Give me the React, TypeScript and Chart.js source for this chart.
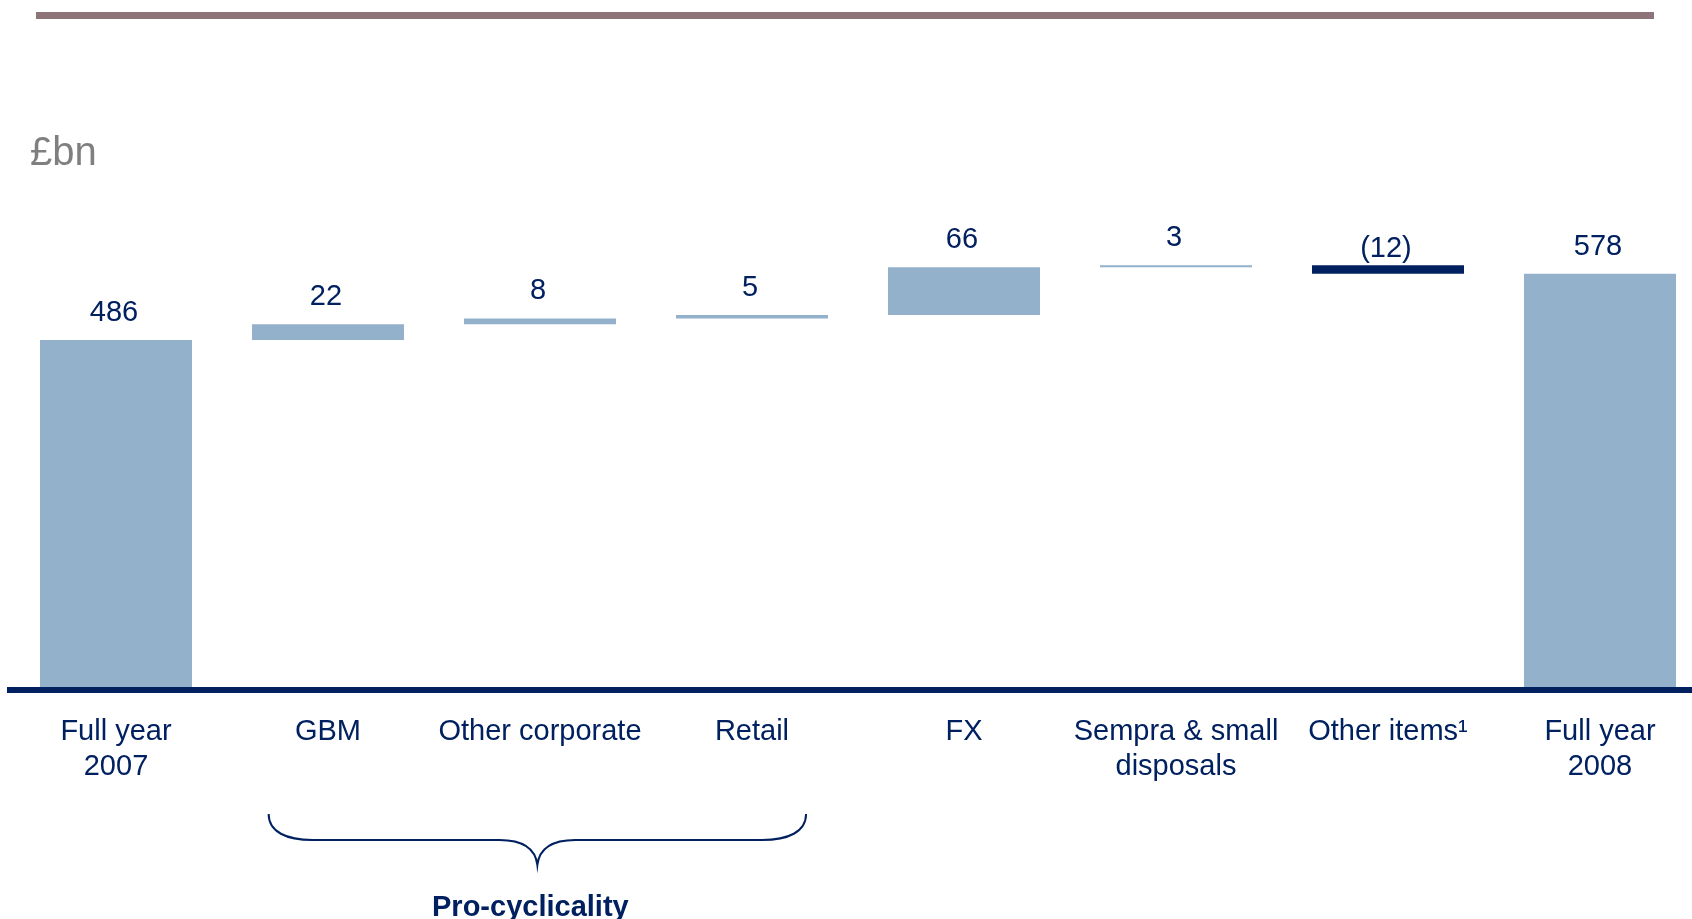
import React, { useEffect, useRef } from 'react';
import { Chart, registerables } from 'chart.js';

Chart.register(...registerables);

// Risk-weighted assets bridge, FY2007 to FY2008 (£bn)
const categories: (string | string[])[] = [
  ['Full year', '2007'],
  'GBM',
  'Other corporate',
  'Retail',
  'FX',
  ['Sempra & small', 'disposals'],
  'Other items¹',
  ['Full year', '2008'],
];
const values = [486, 22, 8, 5, 66, 3, -12, 578];
const isTotal = [true, false, false, false, false, false, false, true];
const unitLabel = '£bn';
const groupLabel = 'Pro-cyclicality';
const groupFirst = 1;
const groupLast = 3;

const FONT = "'Liberation Sans', Arial, Helvetica, sans-serif";
const NAVY = '#002060';
const LIGHT = '#94B1CC';
const RULE = '#8C7478';
const GREY = '#7F7F7F';

// floating [low, high] ranges for the waterfall
const ranges: [number, number][] = (() => {
  let running = 0;
  return values.map((v, i) => {
    if (isTotal[i]) {
      running = v;
      return [0, v] as [number, number];
    }
    const r: [number, number] = [running, running + v];
    running += v;
    return r;
  });
})();

const fmt = (v: number) => (v < 0 ? `(${Math.abs(v)})` : String(v));

const decorations = {
  id: 'decorations',
  afterDatasetsDraw(chart: any) {
    const { ctx } = chart;
    const meta = chart.getDatasetMeta(0);
    ctx.save();
    ctx.fillStyle = NAVY;
    ctx.font = `29px ${FONT}`;
    ctx.textAlign = 'center';
    ctx.textBaseline = 'alphabetic';
    meta.data.forEach((bar: any, i: number) => {
      const p = bar.getProps(['x', 'y', 'base'], true);
      const top = Math.min(p.y, p.base);
      const gap = values[i] < 0 ? 8 : 19;
      ctx.fillText(fmt(values[i]), p.x - 2, top - gap);
    });
    ctx.restore();
  },
  afterDraw(chart: any) {
    const { ctx } = chart;
    const xs = chart.scales.x;
    ctx.save();

    // header rule
    ctx.fillStyle = RULE;
    ctx.fillRect(36, 12, 1618, 7);

    // unit label
    ctx.fillStyle = GREY;
    ctx.font = `40px ${FONT}`;
    ctx.textAlign = 'left';
    ctx.textBaseline = 'alphabetic';
    ctx.fillText(unitLabel, 30, 165);

    // brace under the grouped categories
    const L = xs.getPixelForValue(groupFirst - 0.28);
    const R = xs.getPixelForValue(groupLast + 0.255);
    const M = (L + R) / 2;
    const yTop = 814;
    const yLine = 840;
    const yTip = 865;
    ctx.strokeStyle = NAVY;
    ctx.lineWidth = 2;
    ctx.beginPath();
    ctx.moveTo(L, yTop);
    ctx.bezierCurveTo(L, yLine - 8, L + 18, yLine, L + 44, yLine);
    ctx.lineTo(M - 38, yLine);
    ctx.bezierCurveTo(M - 16, yLine, M - 2, yLine + 8, M, yTip);
    ctx.bezierCurveTo(M + 2, yLine + 8, M + 16, yLine, M + 38, yLine);
    ctx.lineTo(R - 44, yLine);
    ctx.bezierCurveTo(R - 18, yLine, R, yLine - 8, R, yTop);
    ctx.stroke();

    ctx.fillStyle = NAVY;
    ctx.font = `bold 29px ${FONT}`;
    ctx.textAlign = 'center';
    ctx.fillText(groupLabel, M - 7, 916);

    ctx.restore();
  },
};

export default function App() {
  const canvasRef = useRef<HTMLCanvasElement | null>(null);

  useEffect(() => {
    const canvas = canvasRef.current;
    if (!canvas) return;
    const chart = new Chart(canvas, {
      type: 'bar',
      data: {
        datasets: [
          {
            data: ranges.map((r, i) => ({ x: i, y: r })) as any,
            backgroundColor: values.map((v) => (v < 0 ? NAVY : LIGHT)),
            borderWidth: 0,
            categoryPercentage: 1,
            barPercentage: 0.717,
          },
        ],
      },
      options: {
        responsive: false,
        devicePixelRatio: 1,
        animation: false,
        layout: { padding: { top: 114, left: 10, right: 0, bottom: 0 } },
        plugins: {
          legend: { display: false },
          tooltip: { enabled: false },
          title: { display: false },
        },
        scales: {
          x: {
            type: 'linear',
            offset: false,
            min: -0.5,
            max: 7.434,
            afterBuildTicks: (scale: any) => {
              scale.ticks = categories.map((_, i) => ({ value: i }));
            },
            afterFit: (scale: any) => {
              scale.height = 229;
            },
            grid: { display: false, drawTicks: false, offset: false },
            border: { display: true, color: NAVY, width: 6, z: 1 },
            ticks: {
              autoSkip: false,
              maxRotation: 0,
              minRotation: 0,
              padding: 25,
              color: NAVY,
              font: { size: 29, family: FONT, lineHeight: 1.2 },
              callback: (v: any) => categories[Number(v)] as any,
            },
          },
          y: {
            display: false,
            min: 0,
            max: 800,
          },
        },
      },
      plugins: [decorations],
    });
    return () => chart.destroy();
  }, []);

  return (
    <div style={{ position: 'absolute', left: 0, top: 0, width: 1692, height: 919, background: '#fff' }}>
      <canvas ref={canvasRef} width={1692} height={919} style={{ display: 'block' }} />
    </div>
  );
}
